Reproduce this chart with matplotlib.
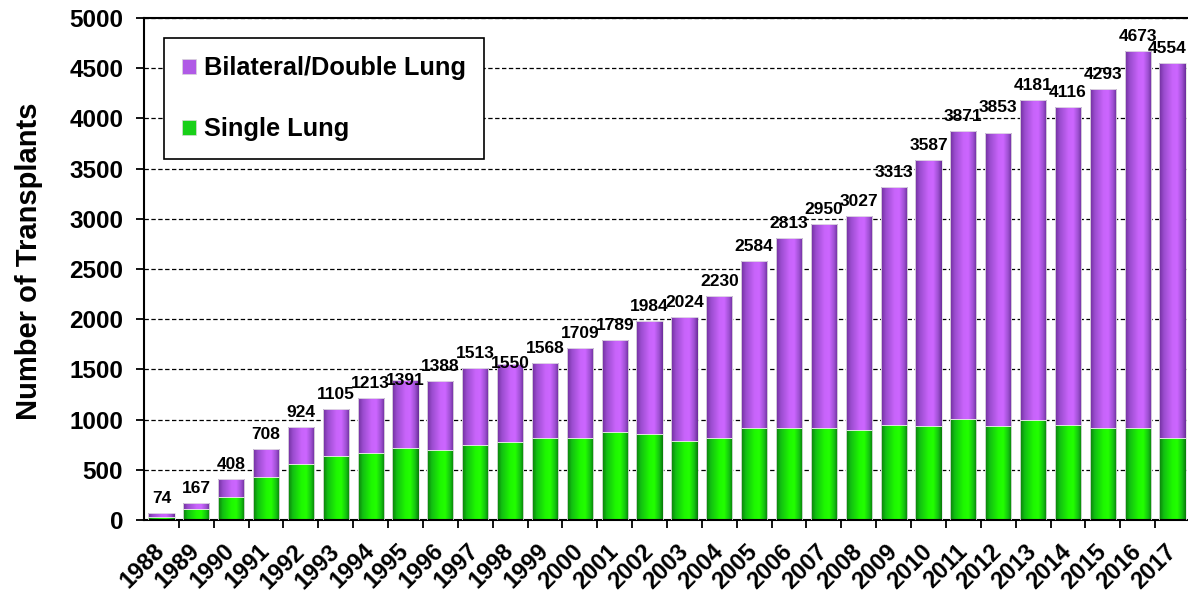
import numpy as np
import matplotlib
matplotlib.use("Agg")
import matplotlib.pyplot as plt
from matplotlib.colors import LinearSegmentedColormap
from matplotlib.patches import Patch
from matplotlib.font_manager import FontProperties
from matplotlib.transforms import offset_copy

plt.rcParams['font.family'] = ['Liberation Sans', 'DejaVu Sans']
plt.rcParams['font.weight'] = 'bold'

# Lung transplants per year
years = list(range(1988, 2018))
totals = [74, 167, 408, 708, 924, 1105, 1213, 1391, 1388, 1513,
          1550, 1568, 1709, 1789, 1984, 2024, 2230, 2584, 2813, 2950,
          3027, 3313, 3587, 3871, 3853, 4181, 4116, 4293, 4673, 4554]
single = [30, 110, 233, 425, 555, 638, 668, 714, 697, 744,
          780, 820, 820, 880, 860, 787, 820, 920, 920, 913,
          897, 943, 937, 1003, 937, 997, 943, 913, 913, 820]
bilateral = [t - s for t, s in zip(totals, single)]

# label nudges in pixels (x, y) - some labels sit off in the original
label_nudge = {1995: (0, -15), 1998: (0, -14), 2012: (0, 11), 2017: (-5, 0)}

W, H = 1188, 594
fig = plt.figure(figsize=(W / 100, H / 100), dpi=100)
ax = fig.add_axes([144 / W, (H - 520) / H, (1190 - 144) / W, (520 - 18) / H])

purple_cm = LinearSegmentedColormap.from_list(
    'pur', [(0, '#6e2e9c'), (0.18, '#9a4cce'), (0.5, '#c864fa'),
            (0.68, '#cc66ff'), (0.86, '#9e50d2'), (1, '#6a2c98')])
green_cm = LinearSegmentedColormap.from_list(
    'grn', [(0, '#0a7a0a'), (0.18, '#12c012'), (0.5, '#1ef800'),
            (0.68, '#22ff00'), (0.86, '#14c410'), (1, '#087808')])
grad = np.linspace(0, 1, 256).reshape(1, -1)

x = np.arange(len(years))
bw = 0.75


def gradient_bars(bottoms, heights, cmap):
    bars = ax.bar(x, heights, bw, bottom=bottoms, color='none',
                  edgecolor='#e4e4e4', linewidth=0.6, zorder=3)
    for b in bars:
        x0, y0 = b.get_x(), b.get_y()
        im = ax.imshow(grad, cmap=cmap, aspect='auto', interpolation='bilinear',
                       extent=[x0, x0 + b.get_width(), y0, y0 + b.get_height()],
                       zorder=2)
        im.set_clip_path(b)
    return bars


gradient_bars(np.zeros(len(x)), single, green_cm)
gradient_bars(single, bilateral, purple_cm)

ax.set_xlim(-0.5, len(years) - 0.5)
ax.set_ylim(0, 5000)

# value labels
for i, (yr, t) in enumerate(zip(years, totals)):
    nx, ny = label_nudge.get(yr, (0, 0))
    tr = offset_copy(ax.transData, fig=fig, x=nx * 0.72, y=7.2 + ny * 0.72,
                     units='points')
    ax.text(i, t, str(t), transform=tr, ha='center', va='baseline',
            fontsize=12.5, fontweight='bold', zorder=5)

# grid
ax.set_yticks(np.arange(0, 5001, 500))
ax.yaxis.grid(True, color='black', linestyle=(0, (3.5, 2)), linewidth=0.9)
ax.set_axisbelow(True)

# x ticks: marks between categories, labels at centers
ax.set_xticks(np.arange(0.5, len(years) - 0.5, 1))
ax.set_xticklabels([])
ax.set_xticks(x, minor=True)
ax.set_xticklabels([str(y) for y in years], minor=True, rotation=45,
                   ha='right', va='center', rotation_mode='anchor',
                   fontsize=17, fontweight='bold')
ax.tick_params(axis='x', which='major', direction='out', length=6, width=1.3)
ax.tick_params(axis='x', which='minor', length=0, pad=20)
ax.tick_params(axis='y', direction='out', length=6, width=1.3, labelsize=17.5, pad=9)
for lab in ax.get_yticklabels():
    lab.set_fontweight('bold')

for s in ['left', 'bottom', 'top']:
    ax.spines[s].set_linewidth(1.5)
    ax.spines[s].set_color('black')
ax.spines['right'].set_visible(False)

ax.set_ylabel('Number of Transplants', fontsize=21, fontweight='bold')
ax.yaxis.set_label_coords(-0.097, 0.516)

handles = [Patch(facecolor='#b05ae6', edgecolor='#d8d8d8', linewidth=0.5),
           Patch(facecolor='#18d018', edgecolor='#d8d8d8', linewidth=0.5)]
leg = ax.legend(handles, ['Bilateral/Double Lung', 'Single Lung'],
                loc='upper left', bbox_to_anchor=(164 / W, 1 - 38 / H),
                bbox_transform=fig.transFigure, fancybox=False, framealpha=1,
                edgecolor='black', borderaxespad=0, borderpad=0.72,
                handlelength=0.55, handleheight=0.55, handletextpad=0.3,
                labelspacing=1.45,
                prop=FontProperties(family='Liberation Sans', weight='bold', size=18.3))
leg.get_frame().set_linewidth(1.2)
leg.set_zorder(6)

fig.savefig('out.png', dpi=100)
